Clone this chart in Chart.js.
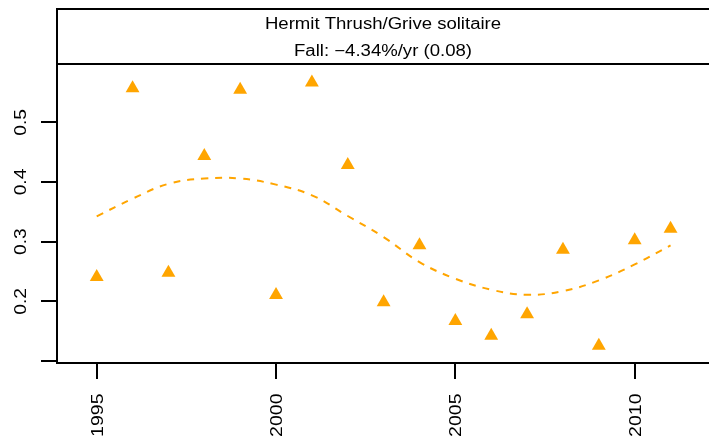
<!DOCTYPE html>
<html>
<head>
<meta charset="utf-8">
<script src="https://cdn.jsdelivr.net/npm/chart.js@4.4.1/dist/chart.umd.min.js"></script>
<style>
html,body{margin:0;padding:0;background:#fff;}
#wrap{width:709px;height:442px;}
</style>
</head>
<body>
<div id="wrap"><canvas id="c" width="709" height="442"></canvas></div>
<script>
// ---- data ----
const titleLine1 = "Hermit Thrush/Grive solitaire";
const titleLine2 = "Fall: \u22124.34%/yr (0.08)";
const years = [1995,1996,1997,1998,1999,2000,2001,2002,2003,2004,2005,2006,2007,2008,2009,2010,2011];
const indexValues = [0.241,0.557,0.248,0.4435,0.5545,0.2105,0.5665,0.4285,0.1985,0.294,0.167,0.1425,0.1785,0.2865,0.1255,0.3025,0.3215];
const trendValues = [0.3425,0.372,0.397,0.4057,0.4057,0.3956,0.3777,0.343,0.3077,0.2658,0.2379,0.2195,0.2111,0.2171,0.2351,0.2619,0.2938];
const xTicks = [1995,2000,2005,2010];
const xTickLabels = ["1995","2000","2005","2010"];
const yTicks = [0.1,0.2,0.3,0.4,0.5];
const yTickLabels = ["","0.2","0.3","0.4","0.5"];

const ORANGE = '#FFA500';
const FONT = '16px "Liberation Sans", Arial, Helvetica, sans-serif';

const decorPlugin = {
  id: 'decor',
  afterDraw(chart) {
    const ctx = chart.ctx, ca = chart.chartArea;
    const xs = chart.scales.x, ys = chart.scales.y;
    ctx.save();
    // header strip
    ctx.strokeStyle = '#000';
    ctx.lineWidth = 2;
    ctx.beginPath();
    ctx.moveTo(ca.left, ca.top); ctx.lineTo(ca.left, 9); ctx.lineTo(chart.width, 9);
    ctx.moveTo(ca.left, ca.top); ctx.lineTo(chart.width, ca.top);
    ctx.stroke();
    ctx.fillStyle = '#000';
    ctx.font = FONT;
    ctx.textAlign = 'center';
    ctx.textBaseline = 'alphabetic';
    const cx = (ca.left + chart.width) / 2;
    [[titleLine1, 29], [titleLine2, 55.5]].forEach(([t, y]) => {
      ctx.save();
      ctx.translate(cx, y);
      ctx.scale(1.16, 1);
      ctx.fillText(t, 0, 0);
      ctx.restore();
    });
    // y tick labels (rotated)
    yTicks.forEach((v, i) => {
      const lab = yTickLabels[i];
      if (!lab) return;
      const py = ys.getPixelForValue(v);
      ctx.save();
      ctx.translate(25.5, py);
      ctx.rotate(-Math.PI / 2);
      ctx.scale(1.2, 1);
      ctx.textAlign = 'center';
      ctx.fillText(lab, 0, 0);
      ctx.restore();
    });
    // x tick labels (rotated)
    xTicks.forEach((v, i) => {
      const px = xs.getPixelForValue(v);
      ctx.save();
      ctx.translate(px + 6, 393.5);
      ctx.rotate(-Math.PI / 2);
      ctx.scale(1.22, 1);
      ctx.textAlign = 'right';
      ctx.fillText(xTickLabels[i], 0, 0);
      ctx.restore();
    });
    ctx.restore();
  }
};

const axisCommon = {
  type: 'linear',
  ticks: { display: false },
  grid: { drawOnChartArea: false, drawTicks: true, tickLength: 16, color: '#000', lineWidth: 2 },
  border: { display: true, color: '#000', width: 2 }
};

new Chart(document.getElementById('c'), {
  data: {
    datasets: [
      {
        type: 'line',
        data: years.map((y, i) => ({ x: y, y: trendValues[i] })),
        borderColor: ORANGE,
        borderWidth: 2,
        borderDash: [7, 7],
        pointRadius: 0,
        fill: false,
        tension: 0.4
      },
      {
        type: 'scatter',
        data: years.map((y, i) => ({ x: y, y: indexValues[i] })),
        pointStyle: 'triangle',
        pointRadius: 8,
        backgroundColor: ORANGE,
        borderColor: ORANGE,
        borderWidth: 0
      }
    ]
  },
  options: {
    responsive: false,
    animation: false,
    devicePixelRatio: 1,
    layout: { autoPadding: false, padding: { top: 64, right: 0, left: 0, bottom: 0 } },
    plugins: { legend: { display: false }, tooltip: { enabled: false } },
    scales: {
      x: Object.assign({}, axisCommon, {
        position: 'bottom',
        min: 1993.893, max: 2012.072,
        afterBuildTicks: s => { s.ticks = xTicks.map(v => ({ value: v })); },
        afterFit: s => { s.height = 79; }
      }),
      y: Object.assign({}, axisCommon, {
        position: 'left',
        min: 0.0967, max: 0.5977,
        afterBuildTicks: s => { s.ticks = yTicks.map(v => ({ value: v })); },
        afterFit: s => { s.width = 57; }
      })
    }
  },
  plugins: [decorPlugin]
});
</script>
</body>
</html>
